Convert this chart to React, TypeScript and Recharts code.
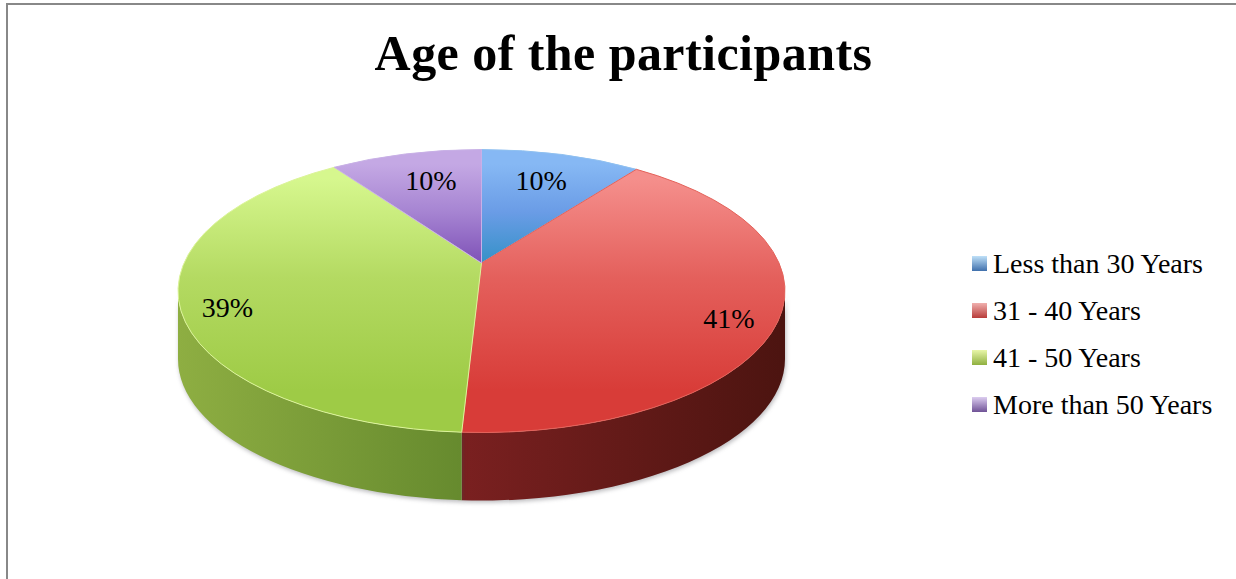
import { Legend, Pie, PieChart } from 'recharts'

const categories = ['Less than 30 Years', '31 - 40 Years', '41 - 50 Years', 'More than 50 Years']
// printed as 10 / 41 / 39 / 10, the decimals are read from where the slice edges fall
const shares = [10.3, 40.55, 39.4, 9.75]

const faceTop = ['#86b8f4', '#f58f8c', '#d6f78e', '#c4a8e4']
const faceMid = ['#6a9ce6', '#e4605c', '#b4da62', '#a684d2']
const faceLow = ['#2f90c4', '#d83c38', '#9ecb46', '#7a4cb4']
const wallFrom = ['#3a6ea8', '#7a2020', '#8eae42', '#6a4a94']
const wallTo = ['#2a5080', '#4c1410', '#668a2e', '#503870']
const rim = ['#8fc0f0', '#e4625a', '#dcf49a', '#c8b0e6']
const legendHi = ['#bfe0f8', '#f0b0ae', '#e8f6a8', '#dccdf0']
const legendLo = ['#3f70ac', '#b83c3a', '#8fb040', '#6f5296']

const labelReach = [0.75, 0.825, 0.84, 0.67]
const labelDrop = [8, 24, 21, 0]

const rows = categories.map((name, i) => ({ name, value: shares[i], fill: `url(#face${i})` }))

const WIDTH = 1236
const HEIGHT = 579
const APEX_X = 481.5
const APEX_Y = 263
const RADIUS_X = 303.5
const RADIUS_Y = 141.5
const TILT = 0.198
const DEPTH = 68
const FONT = '"Liberation Serif", serif'

const rad = (deg: number) => (deg * Math.PI) / 180
const ellipseY = (cy: number) => cy + TILT * RADIUS_Y

// recharts angle -> clockwise angle on the tilted rim, the apex sits above the ellipse centre
function rimAngle(angle: number) {
  const u = Math.cos(rad(angle))
  const v = Math.sin(rad(angle))
  const d = 1 + TILT * v
  return Math.atan2((u * Math.sqrt(1 - TILT * TILT)) / d, (v + TILT) / d)
}

function rimPoint(cx: number, cy: number, phi: number, rx: number) {
  return { x: cx + rx * Math.sin(phi), y: ellipseY(cy) - RADIUS_Y * Math.cos(phi) }
}

function Slice3D(props: any) {
  const { cx, cy, startAngle, endAngle, outerRadius, index } = props
  const rx = outerRadius
  const a = rimAngle(startAngle)
  let b = rimAngle(endAngle)
  while (b <= a) b += Math.PI * 2
  let from = a
  if (from < 0) {
    from += Math.PI * 2
    b += Math.PI * 2
  }
  const p1 = rimPoint(cx, cy, from, rx)
  const p2 = rimPoint(cx, cy, b, rx)
  const large = b - from > Math.PI ? 1 : 0
  const face = `M${cx},${cy} L${p1.x},${p1.y} A${rx},${RADIUS_Y} 0 ${large} 1 ${p2.x},${p2.y} Z`

  const w1 = Math.max(from, Math.PI / 2)
  const w2 = Math.min(b, (Math.PI * 3) / 2)
  let wall = null
  if (w2 > w1) {
    const q1 = rimPoint(cx, cy, w1, rx)
    const q2 = rimPoint(cx, cy, w2, rx)
    const d = `M${q1.x},${q1.y} A${rx},${RADIUS_Y} 0 0 1 ${q2.x},${q2.y} L${q2.x},${q2.y + DEPTH} A${rx},${RADIUS_Y} 0 0 0 ${q1.x},${q1.y + DEPTH} Z`
    wall = <path d={d} fill={`url(#wall${index})`} style={{ filter: 'drop-shadow(1px 2px 2px rgba(60,60,70,0.35))' }} />
  }
  return (
    <g>
      {wall}
      <path d={face} fill={`url(#face${index})`} stroke={rim[index]} strokeWidth={1} />
    </g>
  )
}

function sliceLabel(props: any) {
  const { cx, cy, midAngle, outerRadius, index, value } = props
  const phi = rimAngle(midAngle)
  const edge = rimPoint(cx, cy, phi, outerRadius)
  const x = cx + (edge.x - cx) * labelReach[index]
  const y = cy + (edge.y - cy) * labelReach[index] + labelDrop[index]
  return (
    <text x={x} y={y} textAnchor="middle" fontFamily={FONT} fontSize={28} fill="#000">
      {Math.round(value)}%
    </text>
  )
}

function LegendBox({ payload }: any) {
  return (
    <div>
      {(payload || []).map((item: any, i: number) => (
        <div key={item.value} style={{ display: 'flex', alignItems: 'center', height: 47, fontFamily: FONT, fontSize: 28, color: '#000', whiteSpace: 'nowrap' }}>
          <span style={{ width: 15, height: 15, marginRight: 6, background: `linear-gradient(${legendHi[i]}, ${legendLo[i]})` }} />
          {item.value}
        </div>
      ))}
    </div>
  )
}

export default function App() {
  return (
    <div style={{ position: 'absolute', left: 0, top: 0, width: WIDTH, height: HEIGHT, background: '#fff', overflow: 'hidden' }}>
      <div style={{ position: 'absolute', left: 6, top: 3, width: WIDTH, height: HEIGHT, borderLeft: '2px solid #888', borderTop: '2px solid #888' }} />
      <PieChart width={WIDTH} height={HEIGHT} margin={{ top: 0, right: 0, bottom: 0, left: 0 }} style={{ position: 'absolute', left: 0, top: 0 }}>
        <defs>
          {categories.map((_, i) => (
            <linearGradient key={i} id={`face${i}`} gradientUnits="userSpaceOnUse" x1="0" y1="150" x2="0" y2="433">
              <stop offset={i === 0 || i === 3 ? '0.05' : '0.1'} stopColor={faceTop[i]} />
              <stop offset={i === 0 || i === 3 ? '0.22' : '0.45'} stopColor={faceMid[i]} />
              <stop offset={i === 0 || i === 3 ? '0.42' : '0.85'} stopColor={faceLow[i]} />
            </linearGradient>
          ))}
          {categories.map((_, i) => (
            <linearGradient key={i} id={`wall${i}`} gradientUnits="userSpaceOnUse" x1={i === 1 ? 463 : 178} y1="0" x2={i === 1 ? 785 : 463} y2="0">
              <stop offset="0" stopColor={wallFrom[i]} />
              <stop offset="1" stopColor={wallTo[i]} />
            </linearGradient>
          ))}
        </defs>
        <text x={623.5} y={70} textAnchor="middle" fontFamily={FONT} fontWeight="bold" fontSize={50} letterSpacing={0.45} fill="#000">
          Age of the participants
        </text>
        <Pie
          data={rows}
          dataKey="value"
          nameKey="name"
          cx={APEX_X}
          cy={APEX_Y}
          innerRadius={0}
          outerRadius={RADIUS_X}
          startAngle={90}
          endAngle={-270}
          stroke="none"
          shape={Slice3D}
          label={sliceLabel}
          labelLine={false}
          isAnimationActive={false}
        />
        <Legend
          layout="vertical"
          align="right"
          verticalAlign="top"
          itemSorter={null}
          content={<LegendBox />}
          wrapperStyle={{ position: 'absolute', left: 972, top: 240, width: 260 }}
        />
      </PieChart>
    </div>
  )
}
